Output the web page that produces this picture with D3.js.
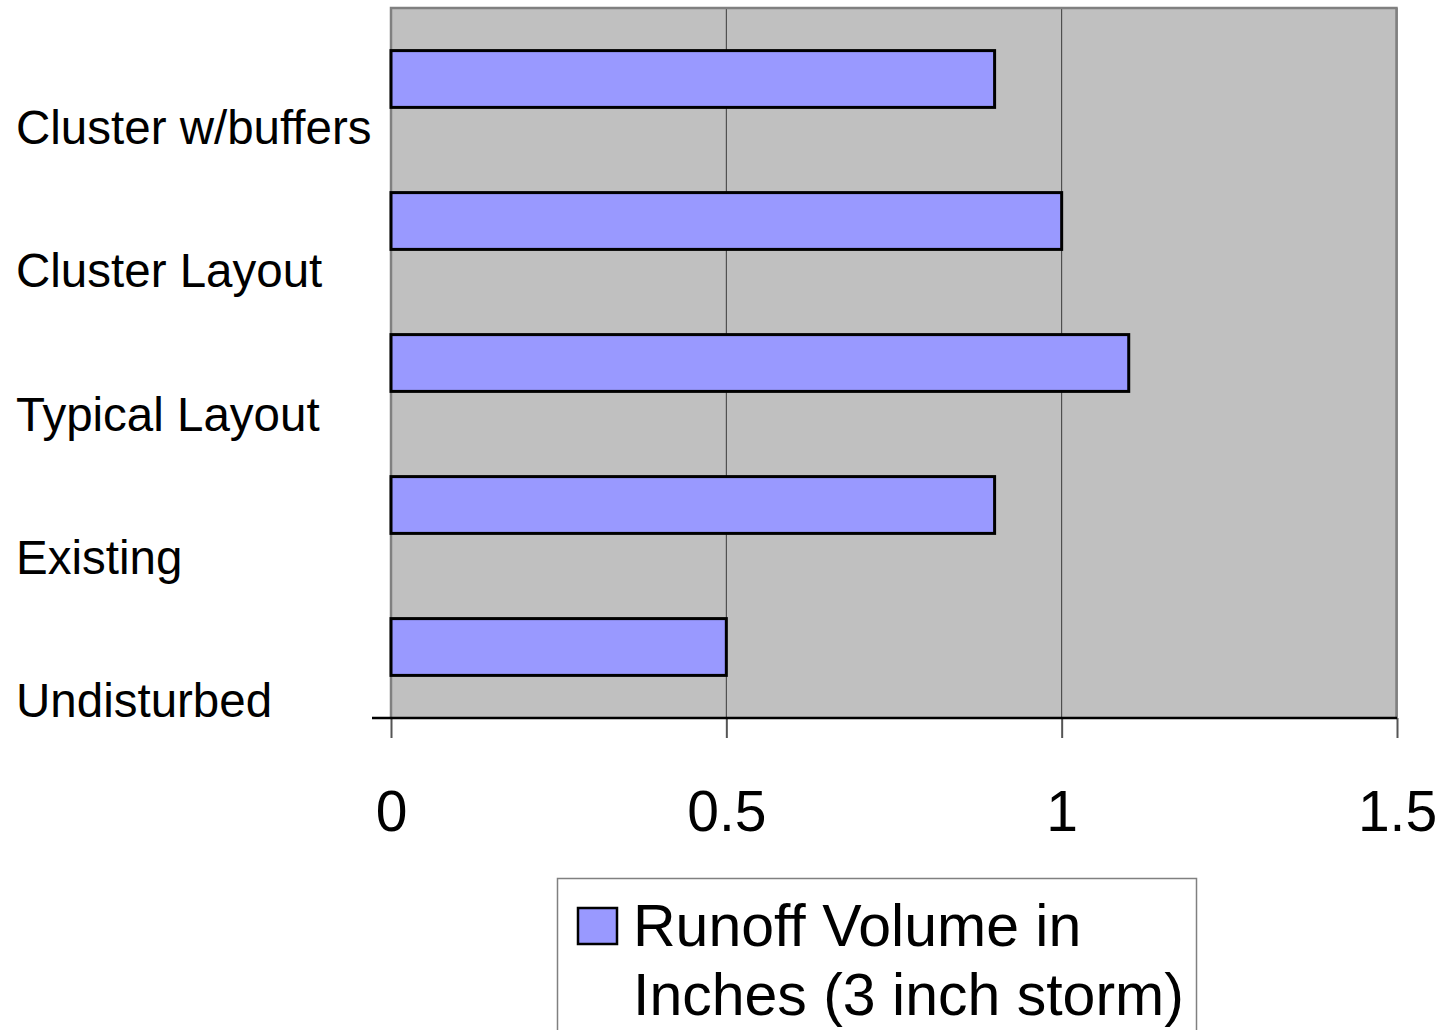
<!DOCTYPE html>
<html>
<head>
<meta charset="utf-8">
<script src="https://cdn.jsdelivr.net/npm/d3@7"></script>
<style>
  html, body { margin: 0; padding: 0; background: #fff; }
  svg { display: block; font-family: "Liberation Sans", Arial, sans-serif; }
</style>
</head>
<body>
<svg id="chart" width="1443" height="1030"></svg>
<script>
const categories = ["Cluster w/buffers", "Cluster Layout", "Typical Layout", "Existing", "Undisturbed"];
const values = [0.9, 1.0, 1.1, 0.9, 0.5];
const tickValues = [0, 0.5, 1, 1.5];
const tickLabels = ["0", "0.5", "1", "1.5"];
const seriesName = ["Runoff Volume in", "Inches (3 inch storm)"];

const svg = d3.select("#chart");
const pL = 391, pR = 1397, pT = 8, pB = 718;

const x = d3.scaleLinear().domain([0, 1.5]).range([pL, pR]);
const y = d3.scaleBand().domain(categories).range([pT, pB]).paddingInner(0.6).paddingOuter(0.3);
const labelY = d3.scaleLinear().domain([0, categories.length - 1]).range([144, 717]);

// plot background
svg.append("rect").attr("x", pL).attr("y", pT).attr("width", pR - pL).attr("height", pB - pT)
  .attr("fill", "#C0C0C0");

// gridlines
svg.append("g").selectAll("line").data(tickValues.filter(v => v > 0)).join("line")
  .attr("x1", d => x(d)).attr("x2", d => x(d)).attr("y1", pT).attr("y2", pB)
  .attr("stroke", "#3a3a3a").attr("stroke-width", 1);

// plot border (top, right, left)
svg.append("path")
  .attr("d", `M${pL},${pB}V${pT}H${pR - 0.5}V${pB}`)
  .attr("fill", "none").attr("stroke", "#808080").attr("stroke-width", 2.5);

// bars
svg.append("g").selectAll("rect").data(categories).join("rect")
  .attr("x", x(0)).attr("y", d => y(d))
  .attr("width", (d, i) => x(values[i]) - x(0)).attr("height", y.bandwidth())
  .attr("fill", "#9999FF").attr("stroke", "#000").attr("stroke-width", 3);

// x axis
const xAxis = d3.axisBottom(x).tickValues(tickValues).tickFormat((d, i) => tickLabels[i]).tickSize(20).tickPadding(53);
const gx = svg.append("g").attr("transform", `translate(0,${pB})`).call(xAxis);
gx.select(".domain").remove();
gx.selectAll(".tick line").attr("stroke", "#555").attr("stroke-width", 2);
gx.selectAll(".tick text").attr("font-size", 57).attr("fill", "#000")
  .attr("font-family", "'Liberation Sans', Arial, sans-serif");
svg.append("line").attr("x1", 372).attr("x2", pR).attr("y1", pB).attr("y2", pB)
  .attr("stroke", "#000").attr("stroke-width", 2.5);

// category labels
svg.append("g").selectAll("text").data(categories).join("text")
  .attr("x", 16).attr("y", (d, i) => labelY(i))
  .attr("font-size", 47.5).attr("fill", "#000").text(d => d);

// legend
const lg = svg.append("g");
lg.append("rect").attr("x", 557.5).attr("y", 878.5).attr("width", 639).attr("height", 200)
  .attr("fill", "#fff").attr("stroke", "#808080").attr("stroke-width", 1.5);
lg.append("rect").attr("x", 578).attr("y", 908).attr("width", 39).attr("height", 36)
  .attr("fill", "#9999FF").attr("stroke", "#000").attr("stroke-width", 2.5);
lg.selectAll("text.leg").data(seriesName).join("text").attr("class", "leg")
  .attr("x", 633).attr("y", (d, i) => 946 + i * 69)
  .attr("font-size", 59).attr("fill", "#000").text(d => d);
</script>
</body>
</html>
